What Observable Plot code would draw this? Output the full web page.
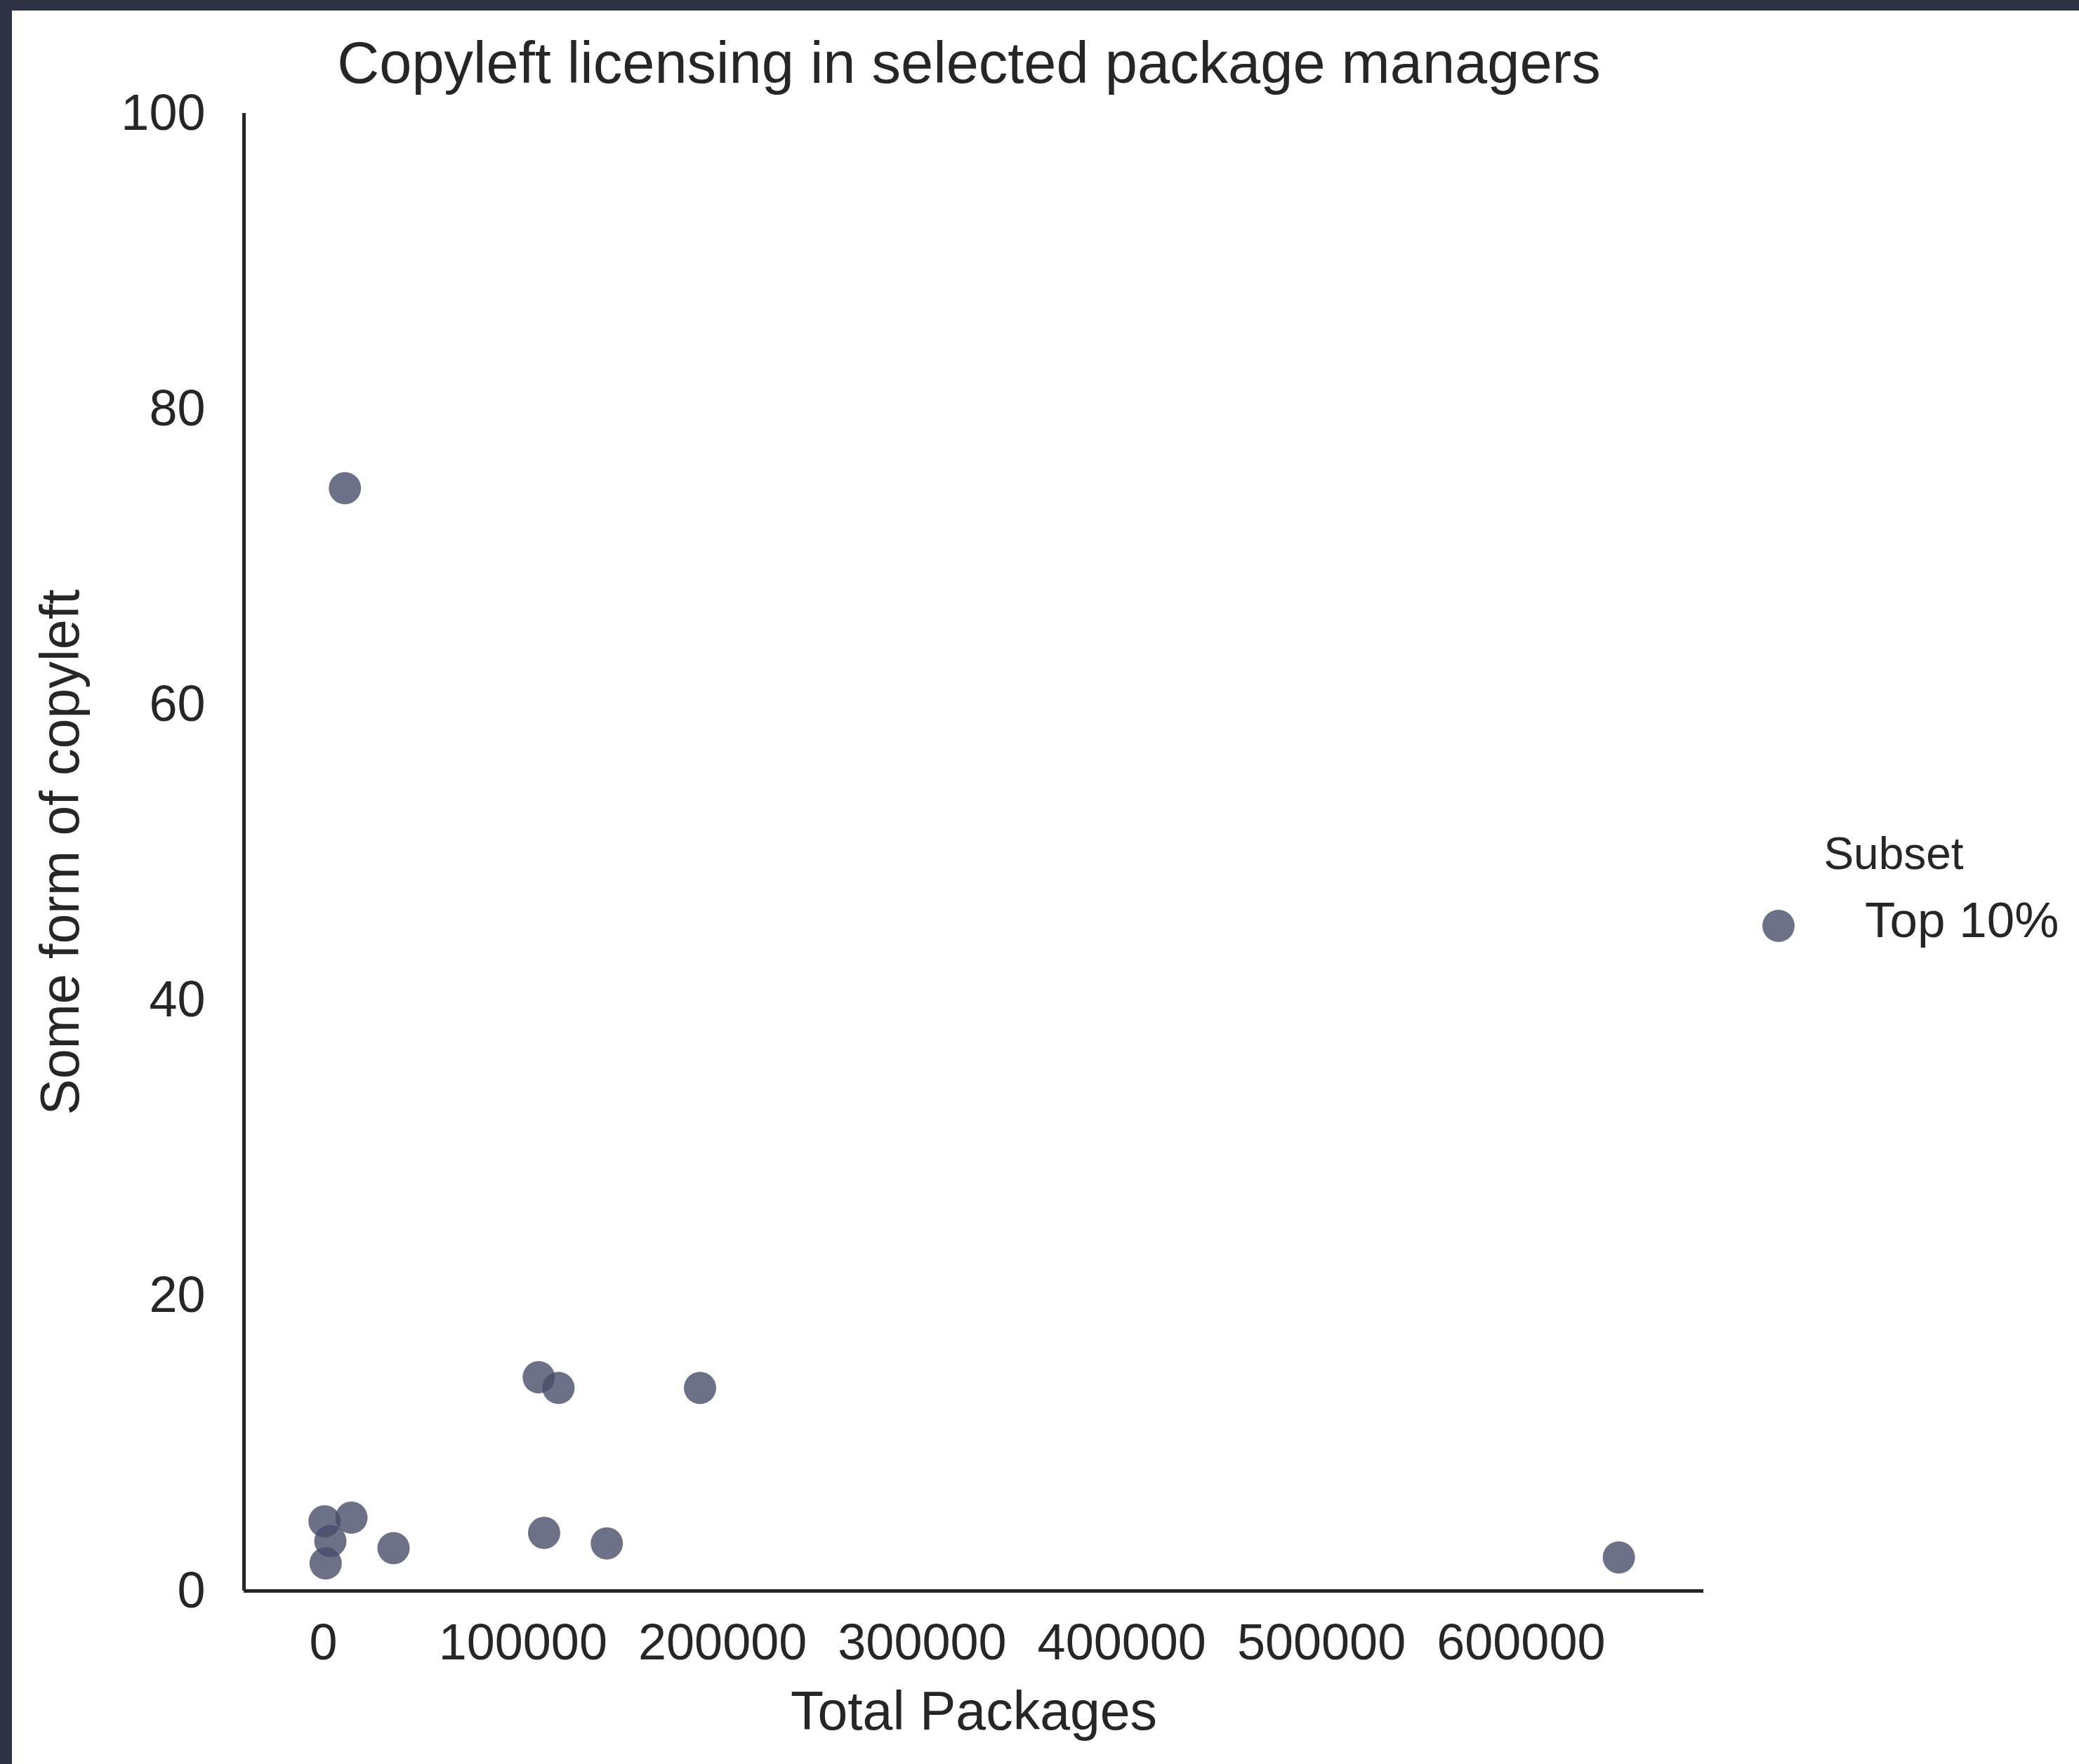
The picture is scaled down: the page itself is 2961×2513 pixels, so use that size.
<!DOCTYPE html>
<html>
<head>
<meta charset="utf-8">
<script src="https://cdn.jsdelivr.net/npm/d3@7"></script>
<script src="https://cdn.jsdelivr.net/npm/@observablehq/plot@0.6"></script>
<style>
  html, body { margin: 0; padding: 0; background: #ffffff; }
  #wrap {
    position: relative; width: 2961px; height: 2513px; box-sizing: border-box;
    border-top: 15px solid #2e3242; border-left: 17px solid #2e3242;
    background: #ffffff; overflow: hidden;
    font-family: "Liberation Sans", Arial, sans-serif; color: #262626;
  }
  #title { position: absolute; left: 1363px; top: 33px; transform: translateX(-50%);
    font-size: 83px; line-height: 1; white-space: nowrap; }
  #legend-title { position: absolute; left: 2680px; top: 1169px; transform: translateX(-50%);
    font-size: 64px; line-height: 1; white-space: nowrap; }
  #legend-dot { position: absolute; left: 2491px; top: 1279px; width: 50px; height: 50px; }
  #legend-label { position: absolute; left: 2639px; top: 1260px;
    font-size: 71px; line-height: 1; white-space: nowrap; }
  #chart { position: absolute; left: 0; top: 0; }
  #chart g[aria-label="x-axis label"], #chart g[aria-label="y-axis label"] { font-size: 77px; }
</style>
</head>
<body>
<div id="wrap">
  <div id="chart"></div>
  <div id="title"></div>
  <div id="legend-title"></div>
  <svg id="legend-dot" viewBox="0 0 50 50"><circle cx="25" cy="25" r="23" fill="#474e69" fill-opacity="0.8"></circle></svg>
  <div id="legend-label"></div>
</div>
<script>
// ---- data ----
const totalPackages = [10800, 600, 14070, 3520, 1160, 35170, 110600, 142000, 107900, 117800, 188700, 649000];
const copyleftPct   = [74.63, 4.72, 4.96, 3.37, 1.87, 2.90, 3.93, 3.22, 14.46, 13.74, 13.74, 2.27];
const subsetName = "Top 10%";

// ---- axes / text ----
const xTicks = [0, 100000, 200000, 300000, 400000, 500000, 600000];
const yTicks = [0, 20, 40, 60, 80, 100];
const xDomain = [-39750, 691500];
const yDomain = [0, 100];
const titleText = "Copyleft licensing in selected package managers";
const xLabel = "Total Packages";
const yLabel = "Some form of copyleft";
const legendTitle = "Subset";

const pointColor = "#474e69";
const axisColor = "#262626";

const rows = totalPackages.map((p, i) => ({packages: p, copyleft: copyleftPct[i], subset: subsetName}));

const chart = Plot.plot({
  width: 2944,
  height: 2498,
  marginLeft: 330,
  marginRight: 535,
  marginTop: 146,
  marginBottom: 247,
  style: {fontFamily: "Liberation Sans, Arial, sans-serif", fontSize: "72px", color: axisColor, background: "transparent", overflow: "visible"},
  x: {domain: xDomain},
  y: {domain: yDomain},
  marks: [
    Plot.axisX({ticks: xTicks, tickSize: 0, tickPadding: 46, tickFormat: d => String(d),
      label: xLabel, labelAnchor: "center", labelOffset: 197, labelArrow: "none", fontSize: 72}),
    Plot.axisY({ticks: yTicks, tickSize: 0, tickPadding: 55, tickFormat: d => String(d),
      label: yLabel, labelAnchor: "center", labelOffset: 290, labelArrow: "none", fontSize: 72}),
    Plot.ruleY([yDomain[0]], {stroke: axisColor, strokeWidth: 5}),
    Plot.ruleX([xDomain[0]], {stroke: axisColor, strokeWidth: 5}),
    Plot.dot(rows, {x: "packages", y: "copyleft", r: 23, fill: pointColor, fillOpacity: 0.8, stroke: "none"})
  ]
});
document.getElementById("chart").appendChild(chart);
document.getElementById("title").textContent = titleText;
document.getElementById("legend-title").textContent = legendTitle;
document.getElementById("legend-label").textContent = subsetName;
</script>
</body>
</html>
